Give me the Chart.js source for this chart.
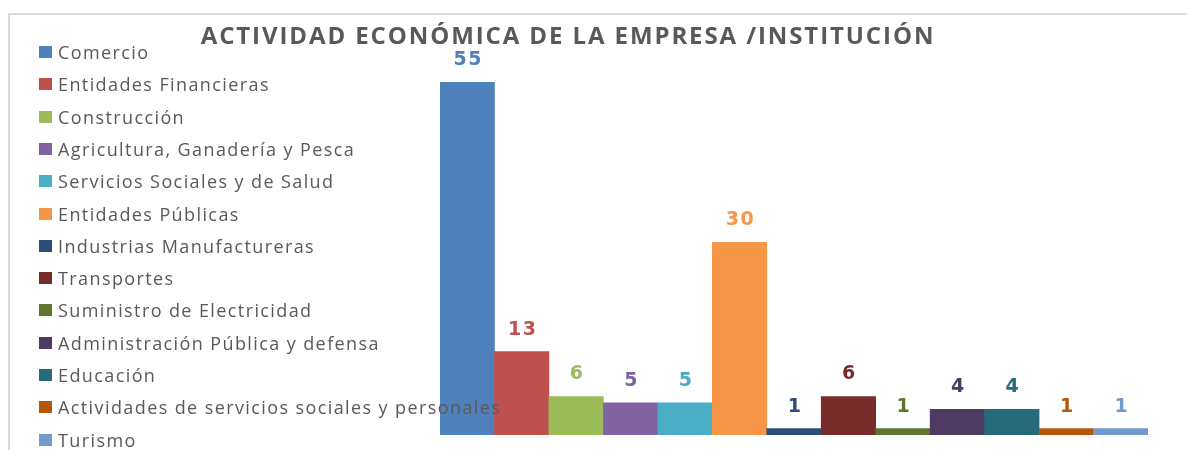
<!DOCTYPE html>
<html>
<head>
<meta charset="utf-8">
<script src="https://cdn.jsdelivr.net/npm/chart.js@4.4.1/dist/chart.umd.min.js"></script>
<style>
  html, body { margin: 0; padding: 0; background: #fff; }
  #wrap { position: relative; width: 1187px; height: 450px; overflow: hidden; }
  #frame { position: absolute; left: 8px; top: 13px; width: 1200px; height: 460px;
           border-top: 2px solid #d9d9d9; border-left: 2px solid #d9d9d9; }
  #chart { position: absolute; left: 0; top: 0; }
  #title { position: absolute; left: 0; top: 18px; width: 1136px; text-align: center;
           font: bold 24px "Open Sans", sans-serif; letter-spacing: 1.9px; color: #595959; }
  #legend { position: absolute; left: 39px; top: 0; font: 18px "Open Sans", sans-serif;
            letter-spacing: 1.4px; color: #595959; }
  .item { position: absolute; left: 0; white-space: nowrap; height: 24px; line-height: 24px; }
  .box { position: absolute; left: 0; top: 6px; width: 13px; height: 12px; }
  .txt { position: absolute; left: 19px; top: 0; }
</style>
</head>
<body>
<div id="wrap">
  <div id="frame"></div>
  <canvas id="chart" width="1187" height="450"></canvas>
  <div id="title">ACTIVIDAD ECONÓMICA DE LA EMPRESA /INSTITUCIÓN</div>
  <div id="legend"></div>
</div>
<script>
const categories = [
  'Comercio',
  'Entidades Financieras',
  'Construcción',
  'Agricultura, Ganadería y Pesca',
  'Servicios Sociales y de Salud',
  'Entidades Públicas',
  'Industrias Manufactureras',
  'Transportes',
  'Suministro de Electricidad',
  'Administración Pública y defensa',
  'Educación',
  'Actividades de servicios sociales y personales',
  'Turismo'
];
const values = [55, 13, 6, 5, 5, 30, 1, 6, 1, 4, 4, 1, 1];
const colors = [
  '#4f81bd', '#c0504d', '#9bbb59', '#8064a2', '#4bacc6', '#f79646',
  '#2c4d75', '#772c2a', '#5f7530', '#4d3b62', '#276a7c', '#b65708', '#729aca'
];

// html legend, same order as the bars
const legend = document.getElementById('legend');
categories.forEach((name, i) => {
  let item = document.createElement('div');
  item.className = 'item';
  item.style.top = (40 + i * 32.3) + 'px';
  item.innerHTML = '<span class="box" style="background:' + colors[i] + '"></span><span class="txt"></span>';
  item.querySelector('.txt').textContent = name;
  legend.appendChild(item);
});

// value labels above each bar
const valueLabels = {
  id: 'valueLabels',
  afterDatasetsDraw(chart) {
    const ctx = chart.ctx;
    const meta = chart.getDatasetMeta(0);
    ctx.save();
    ctx.font = 'bold 19px "DejaVu Sans", sans-serif';
    ctx.letterSpacing = '1.5px';
    ctx.textAlign = 'center';
    ctx.textBaseline = 'alphabetic';
    meta.data.forEach((bar, i) => {
      ctx.fillStyle = colors[i];
      ctx.fillText(String(values[i]), bar.x + 1, bar.y - 17);
    });
    ctx.restore();
  }
};

new Chart(document.getElementById('chart'), {
  type: 'bar',
  data: {
    labels: categories,
    datasets: [{
      data: values,
      backgroundColor: colors,
      borderWidth: 0,
      categoryPercentage: 1,
      barPercentage: 1
    }]
  },
  options: {
    responsive: false,
    animation: false,
    layout: { padding: { left: 440, right: 39, top: 82, bottom: 15 } },
    plugins: {
      legend: { display: false },
      title: { display: false },
      tooltip: { enabled: false }
    },
    scales: {
      x: { display: false },
      y: { display: false, min: 0, max: Math.max(...values) }
    }
  },
  plugins: [valueLabels]
});
</script>
</body>
</html>
